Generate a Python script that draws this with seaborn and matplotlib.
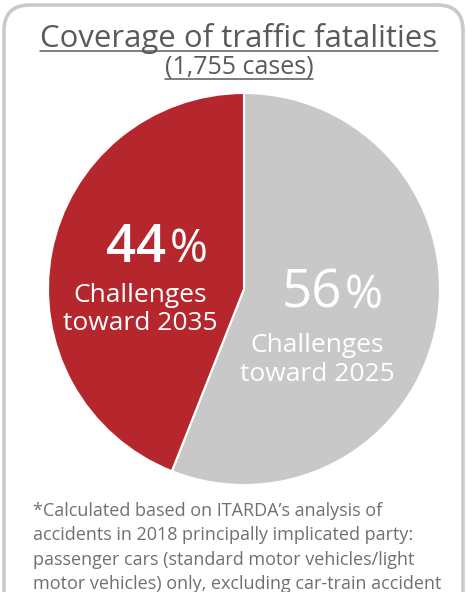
import matplotlib
matplotlib.use("Agg")
import matplotlib.pyplot as plt
import seaborn as sns
from matplotlib.patches import FancyBboxPatch
from matplotlib.lines import Line2D

sns.set_theme(style="white")
plt.rcParams["font.family"] = ["Open Sans", "DejaVu Sans"]

# data
shares = [56, 44]
share_text = ["56", "44"]
share_labels = [["Challenges", "toward 2025"], ["Challenges", "toward 2035"]]
title = "Coverage of traffic fatalities"
subtitle = "(1,755 cases)"
footnote = ["*Calculated based on ITARDA\u2019s analysis of",
            "accidents in 2018 principally implicated party:",
            "passenger cars (standard motor vehicles/light",
            "motor vehicles) only, excluding car-train accident"]

RED = "#b5272d"
GREY = "#c8c8c9"
TXT = "#5a5a5a"

W, H = 467, 592
fig = plt.figure(figsize=(W / 100, H / 100), dpi=100)
fig.patch.set_facecolor("white")

def fx(px):
    return px / W

def fy(py):
    return 1 - py / H

# rounded frame
frame = FancyBboxPatch((fx(4), fy(640)), fx(459), (640 - 5) / H,
                       boxstyle="round,pad=0,rounding_size=0.055",
                       transform=fig.transFigure, fill=False,
                       edgecolor="#c9c9c9", linewidth=2.6,
                       mutation_aspect=W / H)
fig.patches.append(frame)

# pie
cx, cy, r = 244, 289, 196
ax = fig.add_axes([fx(cx - r), fy(cy + r), 2 * r / W, 2 * r / H])
ax.pie(shares, colors=[GREY, RED], startangle=90, counterclock=False,
       wedgeprops=dict(edgecolor="white", linewidth=1.5))
ax.set_xlim(-1, 1)
ax.set_ylim(-1, 1)
ax.set_aspect("auto")
ax.axis("off")

# numbers inside wedges
fig.text(fx(342), fy(308), share_text[0], color="white", fontsize=38,
         ha="right", va="baseline")
fig.text(fx(345), fy(308), "%", color="white", fontsize=33,
         ha="left", va="baseline")
fig.text(fx(166), fy(262), share_text[1], color="white", fontsize=38,
         fontweight="semibold", ha="right", va="baseline")
fig.text(fx(170), fy(262), "%", color="white", fontsize=33,
         ha="left", va="baseline")
for i, lab in enumerate(share_labels[0]):
    fig.text(fx(317), fy(352 + 29 * i), lab, color="white", fontsize=19,
             ha="center", va="baseline")
for i, lab in enumerate(share_labels[1]):
    fig.text(fx(140), fy(302 + 28 * i), lab, color="white", fontsize=19,
             ha="center", va="baseline")

# title with underline
t1 = fig.text(fx(239), fy(47), title, color=TXT, fontsize=22.4,
              ha="center", va="baseline")
t2 = fig.text(fx(239), fy(73), subtitle, color=TXT, fontsize=18,
              ha="center", va="baseline")
fig.canvas.draw()
rend = fig.canvas.get_renderer()
for t, uy in [(t1, 50.5), (t2, 79)]:
    bb = t.get_window_extent(rend)
    fig.add_artist(Line2D([bb.x0 / W, bb.x1 / W], [fy(uy), fy(uy)],
                          transform=fig.transFigure, color=TXT, lw=1.1))

# footnote
for i, line in enumerate(footnote):
    fig.text(fx(33), fy(516 + 24.3 * i), line, color="#707070",
             fontsize=13, ha="left", va="baseline")

fig.savefig("out.png", dpi=100)
